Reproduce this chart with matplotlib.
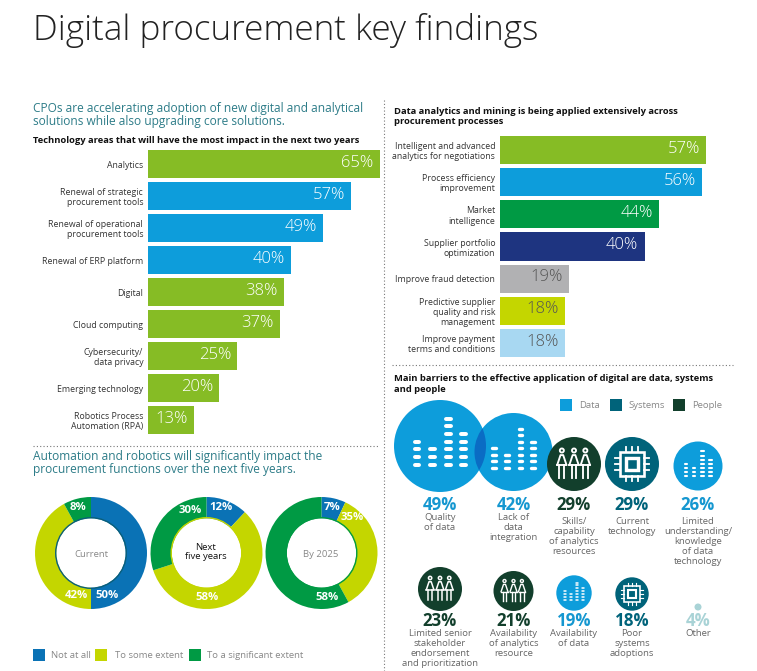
import matplotlib
matplotlib.use("Agg")
import matplotlib.pyplot as plt
from matplotlib.patches import Circle, Rectangle

plt.rcParams["font.family"] = ["Open Sans", "DejaVu Sans"]

W, H = 757, 671

GREEN = "#86bc25"
BLUE = "#0d9ddb"
DGREEN = "#009a44"
NAVY = "#1e3480"
GREY = "#b1b1b3"
YELLOW = "#c4d600"
LBLUE = "#a8d8f2"
DONUT_BLUE = "#0a72b5"
TEAL = "#2d7c88"
SYSTEMS = "#00637a"
PEOPLE = "#123f2c"

# left bars
tech_labels = ["Analytics", "Renewal of strategic\nprocurement tools",
               "Renewal of operational\nprocurement tools", "Renewal of ERP platform",
               "Digital", "Cloud computing", "Cybersecurity/\ndata privacy",
               "Emerging technology", "Robotics Process\nAutomation (RPA)"]
tech_values = [65, 57, 49, 40, 38, 37, 25, 20, 13]
tech_colors = [GREEN, BLUE, BLUE, BLUE, GREEN, GREEN, GREEN, GREEN, GREEN]

# right bars
proc_labels = ["Intelligent and advanced\nanalytics for negotiations",
               "Process efficiency\nimprovement", "Market\nintelligence",
               "Supplier portfolio\noptimization", "Improve fraud detection",
               "Predictive supplier\nquality and risk\nmanagement",
               "Improve payment\nterms and conditions"]
proc_values = [57, 56, 44, 40, 19, 18, 18]
proc_colors = [GREEN, BLUE, DGREEN, NAVY, GREY, YELLOW, LBLUE]
proc_text = ["white", "white", "white", "white", "#555555", "#555555", "#555555"]

# donuts
donut_names = ["Current", "Next\nfive years", "By 2025"]
not_at_all = [50, 12, 7]
some_extent = [42, 58, 35]
signif_extent = [8, 30, 58]

# barriers
barrier_pct = [49, 42, 29, 29, 26, 23, 21, 19, 18, 4]
barrier_labels = ["Quality\nof data", "Lack of\ndata\nintegration",
                  "Skills/\ncapability\nof analytics\nresources", "Current\ntechnology",
                  "Limited\nunderstanding/\nknowledge\nof data\ntechnology",
                  "Limited senior\nstakeholder\nendorsement\nand prioritization",
                  "Availability\nof analytics\nresource", "Availability\nof data",
                  "Poor\nsystems\nadoptions", "Other"]
barrier_kind = ["data", "data", "people", "systems", "data", "people", "people", "data", "systems", "other"]


fig = plt.figure(figsize=(W / 100, H / 100), dpi=100, facecolor="white")


def px_axes(x0, y0, x1, y1):
    return fig.add_axes([x0 / W, 1 - y1 / H, (x1 - x0) / W, (y1 - y0) / H])


pg = px_axes(0, 0, W, H)
pg.set_xlim(0, W)
pg.set_ylim(H, 0)
pg.axis("off")


def txt(x, y, s, size=7, color="#444444", ha="left", weight="normal", ls=1.0, va="center", **kw):
    pg.text(x, y, s, fontsize=size, color=color, ha=ha, va=va, fontweight=weight, linespacing=ls, **kw)


def hbars(box, labels, values, colors, text_colors, xmax):
    ax = px_axes(*box)
    ax.patch.set_alpha(0)
    pos = range(len(values))
    ax.barh(pos, values, height=0.875, color=colors)
    ax.set_xlim(0, xmax)
    ax.set_ylim(len(values) - 0.5, -0.5)
    ax.set_yticks(list(pos), labels, fontsize=6.3, color="#333333", linespacing=1.17)
    ax.tick_params(axis="y", length=0, pad=3.5)
    ax.set_xticks([])
    for s in ax.spines.values():
        s.set_visible(False)
    for i, v in enumerate(values):
        ax.annotate(f"{v}%", (v, i), xytext=(-4.5, 1), textcoords="offset points", ha="right",
                    va="center", fontsize=12, color=text_colors[i], fontweight="light")


txt(33, 31, "Digital procurement key findings", size=25.3, color="#222222", weight="light")

# section heads
txt(33, 115, "CPOs are accelerating adoption of new digital and analytical\nsolutions while also upgrading core solutions.",
    size=8.6, color=TEAL, ls=0.96)
txt(33, 140.5, "Technology areas that will have the most impact in the next two years", size=6.77,
    color="#111111", weight="bold")
txt(394, 116.5, "Data analytics and mining is being applied extensively across\nprocurement processes",
    size=6.76, color="#111111", weight="bold", ls=1.15)
txt(33, 463, "Automation and robotics will significantly impact the\nprocurement functions over the next five years.",
    size=8.6, color=TEAL, ls=0.96)
txt(394, 384, "Main barriers to the effective application of digital are data, systems\nand people",
    size=6.76, color="#111111", weight="bold", ls=1.15)

# dotted rules
pg.plot([33, 378], [445.5, 445.5], color="#777777", lw=0.8, ls=(0, (1, 2)))
pg.plot([392, 733], [365, 365], color="#777777", lw=0.8, ls=(0, (1, 2)))
pg.plot([384, 384], [100, 671], color="#777777", lw=0.8, ls=(0, (1, 2)))

hbars((148, 148, 380, 436), tech_labels, tech_values, tech_colors, ["white"] * 9, 65)
hbars((500, 134, 706, 359), proc_labels, proc_values, proc_colors, proc_text, 57)

# donuts
donut_x = [91, 206.5, 321.5]
donut_r = 56
ring_colors = ["#0a5f7a", YELLOW, DGREEN]
pct_pos = [[(107, 596), (76, 596), (78, 508)],
           [(221, 508), (207, 598), (190, 510.5)],
           [(332, 508), (352, 517.5), (327, 598)]]
for i in range(3):
    cx = donut_x[i]
    ax = px_axes(cx - donut_r, 553 - donut_r, cx + donut_r, 553 + donut_r)
    ax.pie([not_at_all[i], some_extent[i], signif_extent[i]],
           colors=[DONUT_BLUE, YELLOW, DGREEN], startangle=90, counterclock=False,
           radius=1, wedgeprops=dict(width=0.38))
    ax.add_patch(Circle((0, 0), 0.63, fc="none", ec=ring_colors[i], lw=1))
    ax.set_xlim(-1, 1)
    ax.set_ylim(-1, 1)
    vals = [not_at_all[i], some_extent[i], signif_extent[i]]
    for v, p in zip(vals, pct_pos[i]):
        txt(p[0], p[1], f"{v}%", size=8.2, color="white", ha="center", weight="bold", zorder=5)

pg.set_zorder(5)
txt(91, 554.5, donut_names[0], size=6.8, color="#888888", ha="center")
txt(206, 552, donut_names[1], size=6.8, color="#111111", ha="center", ls=1.12)
txt(321, 554.5, donut_names[2], size=6.8, color="#888888", ha="center")

# donut legend
for x, c, s, tx in [(33, DONUT_BLUE, "Not at all", 51), (95, YELLOW, "To some extent", 115),
                    (189, DGREEN, "To a significant extent", 207)]:
    pg.add_patch(Rectangle((x, 649), 12, 12, color=c, lw=0))
    txt(tx, 655, s, size=6.8, color="#888888")

# barrier legend
for x, c, s, tx in [(560, BLUE, "Data", 579), (610, SYSTEMS, "Systems", 628), (673, PEOPLE, "People", 692)]:
    pg.add_patch(Rectangle((x, 399), 12, 12, color=c, lw=0))
    txt(tx, 405, s, size=6.8, color="#888888")


def data_icon(cx, cy, r):
    cols = [(-0.5, 4), (-0.16, 3), (0.18, 7), (0.51, 5)]
    lw = r * 0.062
    for dx, n in cols:
        for k in range(n):
            y = cy + r * (0.41 - k * 0.167)
            pg.plot([cx + r * (dx - 0.05), cx + r * (dx + 0.05)], [y, y], color="white", lw=lw,
                    solid_capstyle="round", zorder=6)


def people_icon(cx, cy, r):
    lw = r * 0.05
    for dx in [-0.45, 0, 0.42]:
        x = cx + r * dx
        pg.add_patch(Circle((x, cy - r * 0.5), r * 0.075, fc="none", ec="white", lw=lw, zorder=6))
        pg.plot([x - r * 0.17, x - r * 0.05, x + r * 0.05, x + r * 0.17],
                [cy + r * 0.03, cy - r * 0.33, cy - r * 0.33, cy + r * 0.03],
                color="white", lw=lw, zorder=6)
        pg.plot([x - r * 0.17, x + r * 0.17], [cy + r * 0.03, cy + r * 0.03], color="white", lw=lw, zorder=6)
        for sx in [-0.09, 0.09]:
            pg.plot([x + r * sx, x + r * sx], [cy + r * 0.03, cy + r * 0.52], color="white", lw=lw, zorder=6)


def chip_icon(cx, cy, r):
    lw = r * 0.07
    a = r * 0.45
    b = r * 0.22
    pg.add_patch(Rectangle((cx - a, cy - a), 2 * a, 2 * a, fc="none", ec="white", lw=lw, zorder=6))
    pg.add_patch(Rectangle((cx - b, cy - b), 2 * b, 2 * b, fc="none", ec="white", lw=lw * 1.3, zorder=6))
    for d in [-0.24, 0, 0.24]:
        off = r * d
        pg.plot([cx + off, cx + off], [cy - r * 0.64, cy - a], color="white", lw=lw * 0.7, zorder=6)
        pg.plot([cx + off, cx + off], [cy + a, cy + r * 0.64], color="white", lw=lw * 0.7, zorder=6)
        pg.plot([cx - r * 0.64, cx - a], [cy + off, cy + off], color="white", lw=lw * 0.7, zorder=6)
        pg.plot([cx + a, cx + r * 0.64], [cy + off, cy + off], color="white", lw=lw * 0.7, zorder=6)


kind_color = {"data": BLUE, "systems": SYSTEMS, "people": PEOPLE, "other": "#a9d3d6"}
pct_color = {"data": "#1597d0", "systems": SYSTEMS, "people": PEOPLE, "other": "#a9d3d6"}
icons = {"data": data_icon, "systems": chip_icon, "people": people_icon}

bub_x = [440, 513.5, 574, 632, 698, 440, 513.5, 574, 632, 698]
bub_y = [446, 452, 464, 464, 466, 589, 591, 593, 594, 607]
bub_r = [46, 39, 27, 27, 24.5, 22, 20, 17.7, 16.7, 3.5]
pct_y = [505, 505, 505.5, 505.5, 505, 621.5, 621.5, 621.5, 621.5, 621.5]
lab_top = [513.5, 513.5, 517.5, 517.5, 517.5, 629, 629, 629, 629, 629]

for i, k in enumerate(barrier_kind):
    pg.add_patch(Circle((bub_x[i], bub_y[i]), bub_r[i], color=kind_color[k], lw=0, zorder=3))
    if k in icons:
        icons[k](bub_x[i], bub_y[i], bub_r[i])
    txt(bub_x[i], pct_y[i], f"{barrier_pct[i]}%", size=12.2, color=pct_color[k], ha="center",
        weight="bold", zorder=6)
    txt(bub_x[i], lab_top[i], barrier_labels[i], size=6.8, color="#666666", ha="center", va="top",
        ls=1.13, zorder=6)

# overlap of the two large circles
first = Circle((bub_x[0], bub_y[0]), bub_r[0], transform=pg.transData)
lens = Circle((bub_x[1], bub_y[1]), bub_r[1], color="#0a6cc4", lw=0, zorder=4)
pg.add_patch(lens)
lens.set_clip_path(first)

fig.savefig("out.png", dpi=100)
